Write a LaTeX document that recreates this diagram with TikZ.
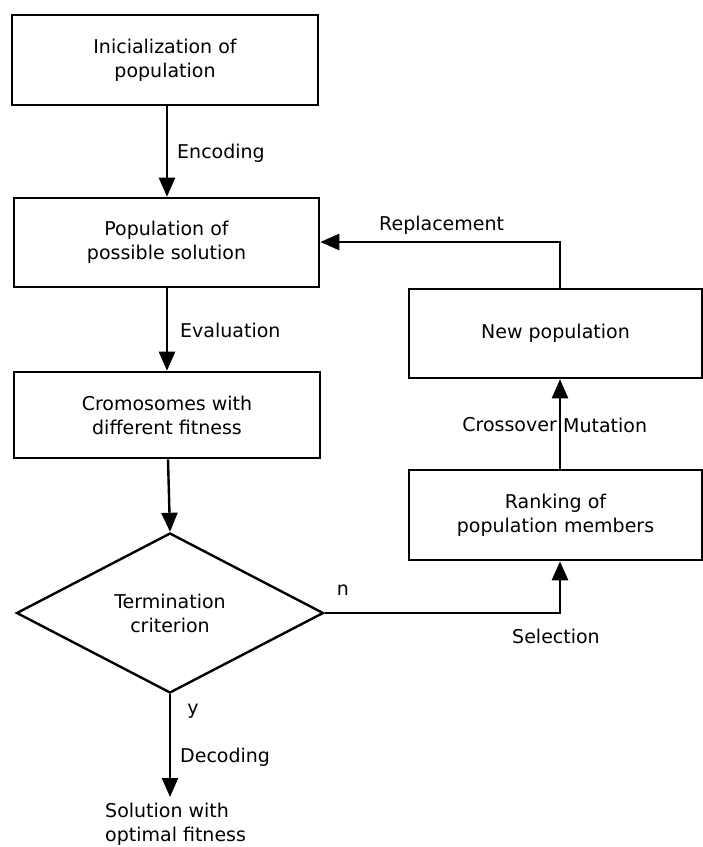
\documentclass[tikz,border=0pt]{standalone}
\usepackage{fontspec}
\setmainfont{DejaVu Sans}
\usetikzlibrary{shapes.geometric,arrows.meta}
\begin{document}
\begin{tikzpicture}[x=1pt,y=-1pt,
  every node/.style={font=\fontsize{19}{24}\selectfont},
  box/.style={draw,line width=2.6pt,inner sep=0pt,align=center},
  lbl/.style={inner sep=0pt},
  conn/.style={line width=2.4pt,-{Triangle[length=19pt,width=16pt]}},
  plain/.style={line width=2.4pt}]
\useasboundingbox (0,0) rectangle (703,847);
\node[box,minimum width=306pt,minimum height=90pt] (b1) at (165,60) {Inicialization of\\population};
\node[box,minimum width=305pt,minimum height=89pt] (b2) at (166.5,242.5) {Population of\\possible solution};
\node[box,minimum width=306pt,minimum height=86pt] (b3) at (167,415) {Cromosomes with\\different fitness};
\node[draw,diamond,line width=2.4pt,inner sep=0pt,minimum width=307pt,minimum height=160pt,align=center] (d) at (170,613) {Termination\\criterion};
\node[box,minimum width=293pt,minimum height=89pt] (np) at (555.5,333.5) {New population};
\node[box,minimum width=293pt,minimum height=90pt] (rk) at (555.5,515) {Ranking of\\population members};
\node[lbl,align=left,anchor=north west] (s) at (105,803) {Solution with\\optimal fitness};
\coordinate (c1) at (560,242);
\coordinate (c2) at (560,613);

\draw[conn] (b1.south -| 167,0) -- (b2.north -| 167,0);
\draw[conn] (b2.south -| 167,0) -- (b3.north -| 167,0);
\draw[conn] (b3.south -| 168,0) -- (d.north);
\draw[conn] (d.south) -- ([yshift=6pt]d.south |- s.north);
\draw[conn] (rk.north -| c1) -- (np.south -| c1);
\draw[conn] (np.north -| c1) -- (c1) -- (b2.east |- c1);
\draw[conn] (d.east) -- (c2) -- (rk.south -| c2);

\node[lbl,anchor=west] (l1) at (177,153) {Encoding};
\node[lbl,anchor=west] (l2) at (180,330) {Evaluation};
\node[lbl,anchor=west] (l3) at (379,225) {Replacement};
\node[lbl,anchor=east] (l4) at (557,425) {Crossover};
\node[lbl,anchor=west] (l5) at (563,425) {Mutation};
\node[lbl] (l6) at (343,590) {n};
\node[lbl] (l7) at (556,636) {Selection};
\node[lbl] (l8) at (193,711) {y};
\node[lbl,anchor=west] (l9) at (180,757) {Decoding};
\end{tikzpicture}
\end{document}
